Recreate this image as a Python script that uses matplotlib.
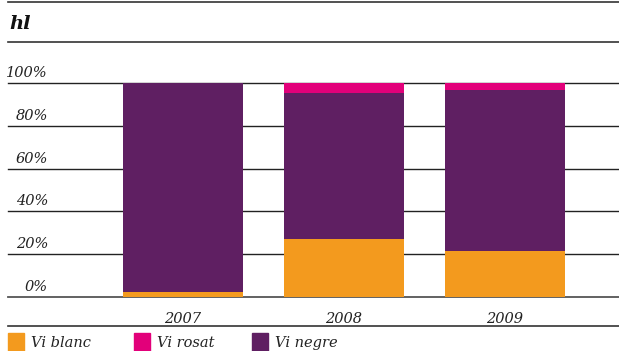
import numpy as np
import matplotlib.pyplot as plt
from matplotlib.patches import Rectangle

# dades (percentatges)
anys = ['2007', '2008', '2009']
vi_blanc = [2.3, 27.1, 21.5]
vi_rosat = [0.0, 4.7, 3.3]
vi_negre = [97.7, 68.2, 75.2]
ticks = [0, 20, 40, 60, 80, 100]

colors = {'Vi blanc': '#F39A1E', 'Vi rosat': '#E2007A', 'Vi negre': '#5F1F62'}
font = 'DejaVu Serif'

W, H = 619, 351
fig = plt.figure(figsize=(W / 100, H / 100), dpi=100)

# eix principal: 0% a y=297px, 100% a y=83px
ax = fig.add_axes([8 / W, (H - 297) / H, 1 - 8 / W, 214 / H])
ax.set_xlim(-1.084, 2.71)
ax.set_ylim(0, 100)
ax.axis('off')

for t in ticks:
    ax.axhline(t, color='#555555' if t == 0 else '#222222', lw=1.3 if t == 0 else 1.0,
               zorder=1, clip_on=False)
    ax.annotate(f'{t}%', xy=(48 / W, (H - 297 + 214 * t / 100 + 3) / H),
                xycoords='figure fraction', ha='right', va='bottom',
                fontsize=10.5, style='italic', family=font, color='#222222')

x = np.arange(len(anys))
w = 0.745
ax.bar(x, vi_blanc, w, color=colors['Vi blanc'], zorder=2)
ax.bar(x, vi_negre, w, bottom=vi_blanc, color=colors['Vi negre'], zorder=2)
ax.bar(x, vi_rosat, w, bottom=np.array(vi_blanc) + np.array(vi_negre),
       color=colors['Vi rosat'], zorder=2)

for xi, a in zip(x, anys):
    ax.annotate(a, xy=(xi, 0), xytext=(0, -16), textcoords='offset points',
                ha='center', va='center', fontsize=10.5, style='italic',
                family=font, color='#222222')

# línies horitzontals i títol
for yp in [2, 42, 326]:
    fig.add_artist(plt.Line2D([8 / W, 1], [1 - yp / H] * 2, color='#333333', lw=1.2))
fig.text(9 / W, 1 - 24 / H, 'hl', fontsize=14, weight='bold', style='italic',
         family=font, va='center', ha='left', color='#111111')

# llegenda
for name, xp in zip(['Vi blanc', 'Vi rosat', 'Vi negre'], [8, 134, 252]):
    fig.add_artist(Rectangle((xp / W, 0), 16 / W, 18 / H, color=colors[name],
                             transform=fig.transFigure))
    fig.text((xp + 23) / W, 1 - 343 / H, name, fontsize=10.5, style='italic',
             family=font, va='center', ha='left', color='#222222')

fig.savefig('out.png', dpi=100)
